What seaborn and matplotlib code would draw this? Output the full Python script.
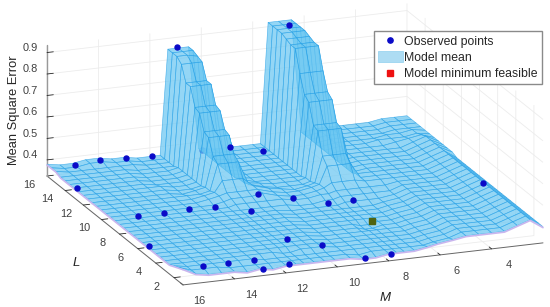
import numpy as np
import matplotlib
matplotlib.use("Agg")
import matplotlib.pyplot as plt
import seaborn as sns
from matplotlib.lines import Line2D
from matplotlib.patches import Patch
from matplotlib.text import Text
from mpl_toolkits.mplot3d import proj3d

M_GRID = [16,15.5,15,14.5,14,13.5,13,12.5,12,11.6,11.3,10.9,10.5,10.1,9.5,9,8.5,8,7.7,7.4,7,6.5,6.1,5.5,5,4.5,4,3.5,3,2.5,2]
L_GRID = [16,15.5,15,14.5,14,13.5,13,12.5,12,11.5,11,10.5,10,9.5,9,8.5,8,7.5,7,6.5,6,5.5,5,4.5,4,3.5,3,2.5,2,1.5,1]
# mean square error x 100, one row per L value, one column per M value
Z_TABLE = [
[38,37,37,38,38,37,37,36,36,36,85,85,85,37,36,36,36,36,36,92,92,92,39,40,40,40,40,40,41,41,41],
[38,37,37,38,38,37,37,36,36,36,85,85,85,37,36,36,36,36,36,92,92,92,39,40,40,40,40,40,41,41,41],
[38,37,37,37,37,37,37,36,36,36,85,85,84,37,36,36,36,36,36,92,92,92,39,40,40,40,40,40,41,41,41],
[37,37,37,37,37,37,36,36,36,36,83,83,83,37,36,36,36,36,36,92,92,92,39,40,40,40,40,40,41,41,41],
[37,37,37,37,37,37,36,36,36,37,76,76,76,37,36,36,36,36,36,91,91,91,39,40,40,40,40,41,41,42,41],
[37,37,37,37,37,37,36,36,36,37,76,76,76,37,36,36,36,36,36,90,90,90,39,40,40,40,41,41,41,42,41],
[37,37,37,37,37,37,36,36,36,37,68,68,68,37,36,36,36,36,36,90,90,90,39,40,40,40,40,41,42,43,41],
[37,37,37,37,37,37,36,36,36,37,67,67,67,37,36,36,36,36,36,80,80,80,39,40,40,40,40,40,42,44,41],
[37,37,37,37,37,37,37,36,36,37,60,60,60,37,36,36,36,36,36,72,72,72,39,40,40,40,40,40,42,44,41],
[37,37,37,37,37,37,37,36,36,37,59,59,59,38,36,36,36,36,36,70,70,70,39,40,40,40,40,40,42,44,41],
[37,37,37,37,37,37,37,36,37,38,52,52,52,38,37,36,36,36,37,61,61,61,39,40,40,40,40,40,42,44,41],
[37,37,37,37,37,37,37,37,37,38,50,50,50,39,37,36,36,36,37,60,60,60,39,40,40,40,40,40,42,44,40],
[37,37,37,37,37,37,37,37,38,39,44,44,44,40,38,37,36,37,38,50,50,50,40,40,40,40,40,40,42,44,40],
[37,37,37,37,37,37,37,37,38,39,40,40,40,40,38,37,37,38,39,47,47,47,40,40,40,40,40,40,42,44,40],
[37,37,37,37,37,37,37,37,37,38,39,39,39,40,38,37,37,38,39,41,41,41,40,40,40,40,40,40,42,44,40],
[37,37,37,37,37,37,37,37,37,37,38,38,38,38,38,37,37,38,38,39,39,39,39,39,40,40,40,40,42,44,40],
[37,37,37,37,37,37,37,37,37,37,37,37,37,37,37,36,36,37,37,38,38,38,38,38,40,40,40,40,42,44,40],
[37,37,37,37,37,37,37,37,37,37,37,37,37,37,36,36,36,36,36,37,37,37,37,38,40,40,40,40,42,44,40],
[37,37,37,37,37,37,37,37,37,37,37,37,37,37,36,36,36,36,36,36,36,36,37,38,40,40,40,40,42,44,40],
[37,37,37,37,37,37,37,37,37,37,37,37,37,37,36,36,36,36,36,36,36,36,37,38,40,40,40,40,42,44,40],
[37,37,37,37,37,37,37,37,37,37,37,37,37,37,36,36,36,36,36,36,36,36,37,38,40,40,40,40,42,44,40],
[37,37,37,37,37,37,37,37,37,37,37,37,37,37,36,36,36,36,36,36,36,36,37,38,40,40,40,40,42,44,40],
[37,37,37,37,37,37,37,37,37,37,37,37,37,37,36,36,36,36,35,35,36,36,37,38,40,40,40,40,42,44,40],
[37,37,37,37,37,37,37,37,37,37,37,37,37,37,36,36,36,36,35,35,36,36,37,38,40,40,40,40,42,44,40],
[37,37,37,37,37,37,37,37,37,37,37,37,37,37,36,36,36,36,36,36,36,36,37,38,40,40,40,40,42,44,40],
[37,37,37,37,37,37,37,37,37,37,37,37,37,37,36,36,36,36,36,36,36,36,37,38,40,40,40,40,42,44,40],
[37,37,37,37,37,37,37,37,37,37,37,37,37,37,36,36,36,36,36,36,36,36,37,38,40,40,40,40,42,44,40],
[37,37,37,37,37,37,37,37,37,36,36,37,37,37,36,36,36,36,36,36,36,36,37,38,40,40,40,40,42,44,40],
[38,37,37,37,37,37,37,36,36,36,36,36,36,36,36,36,36,36,36,36,36,36,37,38,40,40,40,40,42,44,40],
[39,37,37,37,36,36,36,36,36,36,36,36,36,36,36,35,36,36,36,36,36,36,37,38,40,40,40,40,42,44,40],
[40,37,36,36,36,35,36,35,36,36,36,36,36,36,36,35,35,36,36,36,36,37,38,39,40,40,40,40,42,44,40],
]
OBS_M = [15.09,14.03,13.06,12.09,9.06,8.11,16,16,15.1,14.09,13.07,12.1,11.08,10.12,9.1,8.12,7.14,15.02,14.05,13.04,12.89,11.03,11.88,10.1,8.92,7.91,2.18]
OBS_L = [15.49,15.74,15.61,15.49,15.48,14.53,12.7,4.71,8.47,8.47,8.6,8.48,7.5,9.45,8.48,7.4,7.4,1.57,1.57,1.57,1,3.63,1,2.42,1,1,7.13]
OBS_Z = [.38,.38,.38,.38,.38,.38,.38,.38,.38,.38,.38,.38,.38,.38,.38,.38,.38,.38,.38,.38,.356,.38,.365,.38,.352,.356,.40]
PEAK_M = [10.95,6.93]
PEAK_L = [16,15]
PEAK_Z = [.854,.934]
HIDDEN_M = [10.14]
HIDDEN_L = [15.51]
HIDDEN_Z = [.38]
MIN_M = [7.4]
MIN_L = [4.6]
MIN_Z = [.38]
M_TICKS = [4,6,8,10,12,14,16]
L_TICKS = [2,4,6,8,10,12,14,16]
Z_TICKS = [.4,.5,.6,.7,.8,.9]
LEGEND_LABELS = ["Observed points","Model mean","Model minimum feasible"]

sns.set_theme(style="white", rc={"grid.color":"#ececec","grid.linewidth":0.6,"axes.edgecolor":"#555555","axes.linewidth":0.7})
plt.rcParams["font.family"] = ["Liberation Sans","DejaVu Sans"]

W,H = 550,307
fig = plt.figure(figsize=(W/100,H/100),dpi=100)
ax = fig.add_axes([0,0,1,1],projection="3d",computed_zorder=False,proj_type="ortho")
ax.set_xlim(16,2); ax.set_ylim(1,16); ax.set_zlim(.325,.933)
ax.view_init(elev=17.8,azim=-110.9)
ax.set_box_aspect((385,381,137))

# place the square axes so the floor corners land where the chart has them
P = ax.get_proj()
lx,ly,_ = proj3d.proj_transform(16,16,.325,P)
rx,ry,_ = proj3d.proj_transform(2,1,.325,P)
vx0,vx1 = ax.viewLim.intervalx; vy0,vy1 = ax.viewLim.intervaly
ppu = (543-47)/(rx-lx)
side = (vx1-vx0)*ppu
left = 47-(lx-vx0)*ppu
bottom = (H-176)-(ly-vy0)*ppu
ax.set_position([left/W,bottom/H,side/W,side/H])

MM,LL = np.meshgrid(M_GRID,L_GRID)
ZZ = np.array(Z_TABLE)/100
ax.plot(HIDDEN_M,HIDDEN_L,HIDDEN_Z,"o",color="#1414c8",ms=3.6,zorder=0)
ax.plot_surface(MM,LL,ZZ,rstride=1,cstride=1,color=(0.42,0.78,0.95,0.72),edgecolor=(0.13,0.62,0.90,0.7),linewidth=0.45,shade=False,zorder=1)
ax.plot(MM[:,0],LL[:,0],ZZ[:,0]-.004,color="#c9b6ee",lw=1.2,zorder=2)
ax.plot(MM[-1,:],LL[-1,:],ZZ[-1,:]-.004,color="#c9b6ee",lw=1.2,zorder=2)
ax.plot(OBS_M,OBS_L,OBS_Z,"o",color="#0a0ac8",ms=3.6,zorder=5)
ax.plot(PEAK_M,PEAK_L,PEAK_Z,"o",color="#0a0ac8",ms=3.6,zorder=5)
ax.plot(MIN_M,MIN_L,MIN_Z,"s",color="#4f6410",ms=4.6,zorder=5)

ax.set_xticks(M_TICKS); ax.set_yticks(L_TICKS); ax.set_zticks(Z_TICKS)
ax.set_zticklabels(["0.4","0.5","0.6","0.7","0.8","0.9"])
ax.grid(True)
for axis in (ax.xaxis,ax.yaxis,ax.zaxis):
    axis.set_pane_color((1,1,1,1))
    axis.pane.set_edgecolor((1,1,1,0))
    axis.line.set_color("#666666")
    axis.line.set_linewidth(0.7)
    axis._axinfo["tick"]["inward_factor"] = 0
    axis._axinfo["tick"]["outward_factor"] = 0.22
    axis._axinfo["tick"]["linewidth"] = {True:0.6,False:0.4}
    axis._axinfo["tick"]["color"] = "#666666"
    axis.set_rotate_label(False)
ax.zaxis.line.set_color("#999999")
ax.zaxis.line.set_linewidth(1.0)
ax.tick_params(axis="both",labelsize=7.9,labelcolor="#404040",pad=-1)
ax.tick_params(axis="z",labelsize=7.9,labelcolor="#404040",pad=0)
ax.set_xlabel("M",style="italic",fontsize=9.5,color="#262626",labelpad=0,rotation=0)
ax.set_ylabel("L",style="italic",fontsize=9.5,color="#262626",labelpad=0,rotation=0)
ax.set_zlabel("Mean Square Error",fontsize=9.3,color="#262626",labelpad=0,rotation=90)

# pixel offsets that carry the labels to where the chart has them
def shifted(label,dx,dy):
    label.set_position = lambda xy: Text.set_position(label,(xy[0]+dx/ppu,xy[1]+dy/ppu))
def nudge(axis,dx,dy,ldx,ldy):
    for tick in axis.get_major_ticks():
        shifted(tick.label1,dx,dy)
    shifted(axis.label,ldx,ldy)
nudge(ax.xaxis,12,-3,8,-9)
nudge(ax.yaxis,-5,2,-2,-15)
nudge(ax.zaxis,3,7,18,-6)

handles = [Line2D([],[],marker="o",color="none",markerfacecolor="#0a0ac8",markeredgecolor="#0a0ac8",ms=3.8),
           Patch(facecolor="#addcf3",edgecolor="#8fd0ee",linewidth=0.5),
           Line2D([],[],marker="s",color="none",markerfacecolor="#ee1111",markeredgecolor="#ee1111",ms=4.5)]
fig.legend(handles,LEGEND_LABELS,loc="upper right",bbox_to_anchor=(542/W,1-31/H),fontsize=8.8,frameon=True,fancybox=False,
           framealpha=1,edgecolor="#8a8a8a",borderaxespad=0,borderpad=0.33,labelspacing=0.30,handlelength=2.0,handleheight=1.0,handletextpad=0.15)
fig.savefig("out.png",dpi=100)
